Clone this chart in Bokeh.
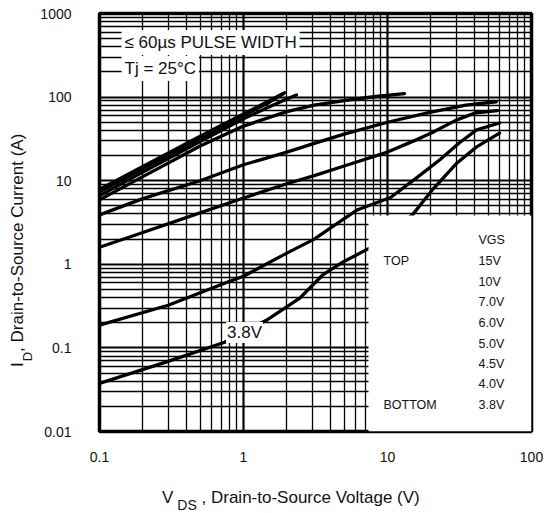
from bokeh.plotting import figure
from bokeh.layouts import row, column
from bokeh.models import FixedTicker, Label, BoxAnnotation, Div
from bokeh.embed import file_html
from bokeh.resources import INLINE

# Typical output characteristics, Tj = 25 C, <= 60 us pulse width
vgs_labels = ["15V", "10V", "7.0V", "6.0V", "5.0V", "4.5V", "4.0V", "3.8V"]

vds_15v = [0.1, 0.2, 0.5, 1.0, 1.5, 1.93]
id_15v = [7.9, 14.8, 34, 63, 90, 113]

vds_10v = [0.1, 0.2, 0.5, 1.0, 1.5, 1.9]
id_10v = [7.3, 14.0, 32, 60, 86, 110]

vds_7v = [0.1, 0.2, 0.5, 1.0, 1.5, 2.0, 2.33]
id_7v = [6.6, 12.7, 29.5, 55, 76, 95, 106]

vds_6v = [0.1, 0.2, 0.5, 1.0, 2.0, 3.1, 5.0, 8.0, 13.1]
id_6v = [5.9, 11.2, 26, 45, 67, 80, 91, 101, 110]

vds_5v = [0.1, 0.2, 0.5, 1.0, 2.0, 3.1, 5.0, 10, 20, 35, 57]
id_5v = [3.9, 6.1, 10, 15.5, 22, 28, 36, 50, 66, 80, 88]

vds_4v5 = [0.1, 0.2, 0.36, 1.0, 2.0, 3.1, 5.0, 10, 16, 20, 30, 41, 58]
id_4v5 = [1.6, 2.4, 3.4, 6.2, 9.2, 11.5, 15, 22, 31, 37, 53, 65, 69]

vds_4v = [0.1, 0.3, 0.77, 1.0, 2.0, 3.1, 4.3, 6.2, 10.5, 15.9, 23, 31.6, 41.6, 60]
id_4v = [0.187, 0.324, 0.61, 0.72, 1.36, 2.0, 2.95, 4.5, 6.3, 10.8, 17.7, 28.4, 40.6, 49]

vds_3v8 = [0.1, 0.3, 0.74, 1.44, 2.46, 3.53, 4.88, 7.5, 14.9, 20.4, 30.4, 41.6, 60]
id_3v8 = [0.0377, 0.069, 0.117, 0.214, 0.394, 0.74, 1.06, 1.56, 3.9, 7.7, 16.3, 25.4, 37]

curves = [
    (vds_15v, id_15v), (vds_10v, id_10v), (vds_7v, id_7v), (vds_6v, id_6v),
    (vds_5v, id_5v), (vds_4v5, id_4v5), (vds_4v, id_4v), (vds_3v8, id_3v8),
]

x_ticks = [0.1, 1, 10, 100]
x_tick_labels = ["0.1", "1", "10", "100"]
y_ticks = [0.01, 0.1, 1, 10, 100, 1000]
y_tick_labels = ["0.01", "0.1", "1", "10", "100", "1000"]

x_title = ("V", "DS", " , Drain-to-Source Voltage (V)")
y_title = ("I", "D", ", Drain-to-Source Current (A)")

# ---- page geometry (page pixels) ----
W, H = 544, 513
YT_W = 36                     # strip on the left holding the I_D title
XT_H = 45                     # strip below holding the V_DS title
FL, FR, FT = 99, 13, 13       # frame edges measured on the page
FB_PAGE = 431                 # frame bottom on the page
PW, PH = W - YT_W, H - XT_H   # figure size
FW, FH = W - FL - FR, FB_PAGE - FT
X_DEC = FW / 3.0              # px per decade (0.1 .. 100)
Y_DEC = FH / 5.0              # px per decade (0.01 .. 1000)


def vx(px):
    """page x pixel -> V_DS value"""
    return 0.1 * 10 ** ((px - FL) / X_DEC)


def iy(py):
    """page y pixel -> I_D value"""
    return 1000 * 10 ** (-(py - FT) / Y_DEC)


FONT = "Liberation Sans"

p = figure(width=PW, height=PH, x_axis_type="log", y_axis_type="log",
           x_range=(0.1, 100), y_range=(0.01, 1000),
           output_backend="svg", toolbar_location=None,
           min_border_left=FL - YT_W, min_border_right=FR,
           min_border_top=FT, min_border_bottom=PH - FB_PAGE, margin=0)

p.background_fill_color = "white"
p.border_fill_color = "white"
p.outline_line_color = "black"
p.outline_line_width = 3.5

minor_x = [m * d for d in (0.1, 1, 10) for m in range(2, 10)]
minor_y = [m * d for d in (0.01, 0.1, 1, 10, 100) for m in range(2, 10)]
p.xaxis.ticker = FixedTicker(ticks=x_ticks, minor_ticks=minor_x)
p.yaxis.ticker = FixedTicker(ticks=y_ticks, minor_ticks=minor_y)
p.xgrid.ticker = FixedTicker(ticks=x_ticks, minor_ticks=minor_x)
p.ygrid.ticker = FixedTicker(ticks=y_ticks, minor_ticks=minor_y)

for g in (p.xgrid, p.ygrid):
    g.grid_line_color = "black"
    g.grid_line_width = 2.2
    g.grid_line_alpha = 1.0
    g.minor_grid_line_color = "black"
    g.minor_grid_line_width = 1.3

for ax in (p.xaxis, p.yaxis):
    ax.axis_line_color = None
    ax.major_tick_line_color = None
    ax.minor_tick_line_color = None
    ax.major_tick_in = 0
    ax.major_tick_out = 0
    ax.minor_tick_in = 0
    ax.minor_tick_out = 0
    ax.major_label_text_font = FONT
    ax.major_label_text_font_size = "14px"
    ax.major_label_text_color = "#111111"

p.xaxis.major_label_overrides = dict(zip(x_ticks, x_tick_labels))
p.yaxis.major_label_overrides = dict(zip(y_ticks, y_tick_labels))
p.xaxis.major_label_standoff = 20
p.yaxis.major_label_standoff = 28

# ---- characteristic curves ----
for vds, ids in curves:
    p.line(vds, ids, line_color="black", line_width=3.3,
           line_join="round", line_cap="round")

# ---- VGS key panel (covers the lower-right corner of the grid) ----
p.add_layout(BoxAnnotation(left=vx(368), right=100, bottom=0.01, top=iy(215),
                           fill_color="white", fill_alpha=1.0, line_color=None))


def label(px, py, text, size, align="left", bg=None, pad=0):
    kw = dict(x=vx(px), y=iy(py), text=text, text_font=FONT,
              text_font_size=size, text_color="#111111",
              text_align=align, text_baseline="middle")
    if bg is not None:
        kw.update(background_fill_color=bg, background_fill_alpha=1.0,
                  padding=pad)
    p.add_layout(Label(**kw))


label(478, 239, "VGS", "12.5px")
label(383, 260, "TOP", "12.5px")
label(383, 404, "BOTTOM", "12.5px")
row_y = [260, 281, 301, 322, 343, 363, 383, 404]
for ry, txt in zip(row_y, vgs_labels):
    label(478, ry, txt, "12.5px")

# curve tag on the lowest trace
label(244, 332, vgs_labels[-1], "17px", align="center", bg="white", pad=1)

# test-condition notes
label(121, 42, "\u2264 60\u00b5s PULSE WIDTH", "17px", bg="white", pad=3)
label(121, 68, "Tj = 25\u00b0C", "17px", bg="white", pad=3)

# ---- axis titles (with subscripts) ----
TXT = ("font-family:'Liberation Sans';font-size:17px;line-height:19px;"
       "white-space:nowrap;color:#111111;")

x_html = (
    f'<div style="{TXT}padding-left:{162 - YT_W}px;padding-top:20px;">'
    f'{x_title[0]}<span style="font-size:14px;vertical-align:-7px;'
    f'margin-left:4px;">{x_title[1]}</span>{x_title[2]}</div>'
)
y_html = (
    f'<div style="{TXT}position:absolute;left:8px;top:367px;'
    f'transform-origin:0 0;transform:rotate(-90deg);">'
    f'{y_title[0]}<span style="font-size:13px;vertical-align:-9px;'
    f'margin-left:1px;">{y_title[1]}</span>{y_title[2]}</div>'
)

x_div = Div(text=x_html, width=PW, height=XT_H, margin=0)
y_div = Div(text=y_html, width=YT_W, height=H, margin=0)

page = row(y_div, column(p, x_div, spacing=0), spacing=0)

open("out.html", "w").write(file_html(page, INLINE))
